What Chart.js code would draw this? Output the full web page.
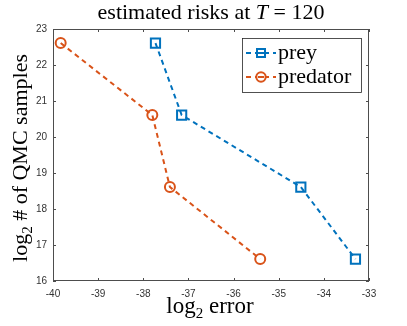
<!DOCTYPE html>
<html>
<head>
<meta charset="utf-8">
<script src="https://cdn.jsdelivr.net/npm/chart.js@4"></script>
<style>
  html, body { margin: 0; padding: 0; background: #fff; }
  #wrap { width: 407px; height: 326px; }
</style>
</head>
<body>
<div id="wrap"><canvas id="grafica" width="407" height="326"></canvas></div>
<script>
// datos
const errPrey = [-37.73, -37.15, -34.51, -33.30];
const nPrey   = [22.61, 20.61, 18.61, 16.61];
const errPred = [-39.83, -37.80, -37.41, -35.41];
const nPred   = [22.61, 20.61, 18.61, 16.61];
const xTicks = [-40, -39, -38, -37, -36, -35, -34, -33];
const yTicks = [16, 17, 18, 19, 20, 21, 22, 23];
const seriesNames = ['prey', 'predator'];

const azul = '#0072BD';
const naranja = '#D95319';
const serif = '"Liberation Serif", "DejaVu Serif", serif';

function toPoints(xs, ys) {
  return xs.map((x, i) => ({ x: x, y: ys[i] }));
}

// dibuja un texto hecho de partes (fuente y desplazamiento vertical), centrado en cx
function textoPartes(ctx, parts, cx, baseY) {
  let total = 0;
  parts.forEach(p => { ctx.font = p.f; p.w = ctx.measureText(p.t).width; total += p.w; });
  let tx = cx - total / 2;
  parts.forEach(p => { ctx.font = p.f; ctx.fillText(p.t, tx, baseY + (p.dy || 0)); tx += p.w; });
}

// marcas hacia adentro, caja, titulos y leyenda estilo matlab
const decoraciones = {
  id: 'decoraciones',
  afterDraw(chart) {
    const ctx = chart.ctx;
    const a = chart.chartArea;
    const sx = chart.scales.x, sy = chart.scales.y;
    ctx.save();
    ctx.strokeStyle = '#4d4d4d';
    ctx.lineWidth = 1;
    ctx.strokeRect(a.left + 0.5, a.top + 0.5, a.right - a.left - 1, a.bottom - a.top - 1);
    ctx.beginPath();
    xTicks.forEach(v => {
      const px = Math.round(sx.getPixelForValue(v)) + 0.5;
      ctx.moveTo(px, a.bottom); ctx.lineTo(px, a.bottom - 3);
      ctx.moveTo(px, a.top); ctx.lineTo(px, a.top + 3);
    });
    yTicks.forEach(v => {
      const py = Math.round(sy.getPixelForValue(v)) + 0.5;
      ctx.moveTo(a.left, py); ctx.lineTo(a.left + 3, py);
      ctx.moveTo(a.right, py); ctx.lineTo(a.right - 3, py);
    });
    ctx.stroke();

    ctx.fillStyle = '#000';
    ctx.textBaseline = 'alphabetic';
    // titulo con T en italica
    textoPartes(ctx, [
      { t: 'estimated risks at ', f: '22px ' + serif },
      { t: 'T', f: 'italic 22px ' + serif },
      { t: ' = 120', f: '22px ' + serif }
    ], 211, 19);

    // titulo eje x
    textoPartes(ctx, [
      { t: 'log', f: '23px ' + serif },
      { t: '2', f: '15px ' + serif, dy: 5 },
      { t: ' error', f: '23px ' + serif }
    ], 210, 313);

    // titulo eje y (rotado)
    ctx.save();
    ctx.translate(27, 158);
    ctx.rotate(-Math.PI / 2);
    textoPartes(ctx, [
      { t: 'log', f: '22px ' + serif },
      { t: '2', f: '15px ' + serif, dy: 5 },
      { t: ' # of QMC samples', f: '22px ' + serif }
    ], 0, 0);
    ctx.restore();

    // leyenda
    const box = { x: 242, y: 38, w: 119, h: 54 };
    ctx.fillStyle = '#fff';
    ctx.fillRect(box.x, box.y, box.w, box.h);
    ctx.strokeStyle = '#262626';
    ctx.lineWidth = 0.8;
    ctx.strokeRect(box.x + 0.5, box.y + 0.5, box.w, box.h);
    const filas = [
      { name: seriesNames[0], color: azul, y: 53, shape: 'rect' },
      { name: seriesNames[1], color: naranja, y: 77, shape: 'circle' }
    ];
    filas.forEach(f => {
      ctx.strokeStyle = f.color;
      ctx.lineWidth = 2;
      ctx.setLineDash([5, 4]);
      ctx.beginPath();
      ctx.moveTo(246, f.y); ctx.lineTo(276, f.y);
      ctx.stroke();
      ctx.setLineDash([]);
      ctx.beginPath();
      if (f.shape === 'rect') {
        ctx.rect(257, f.y - 4, 8, 8);
      } else {
        ctx.arc(261, f.y, 4.7, 0, Math.PI * 2);
      }
      ctx.fillStyle = '#fff';
      ctx.fill();
      ctx.stroke();
      ctx.beginPath();
      ctx.moveTo(258, f.y); ctx.lineTo(264, f.y);
      ctx.stroke();
      ctx.fillStyle = '#000';
      ctx.font = '22px ' + serif;
      ctx.textBaseline = 'middle';
      ctx.fillText(f.name, 278, f.y);
    });
    ctx.restore();
  }
};

var ctx = document.getElementById('grafica').getContext('2d');
var grafica = new Chart(ctx, {
  type: 'scatter',
  data: {
    datasets: [{
      label: seriesNames[0],
      data: toPoints(errPrey, nPrey),
      showLine: true,
      borderColor: azul,
      backgroundColor: 'rgba(0,0,0,0)',
      borderWidth: 2,
      borderDash: [5, 4],
      pointStyle: 'rect',
      pointRadius: 6.5,
      pointBorderWidth: 2,
      pointBorderColor: azul
    }, {
      label: seriesNames[1],
      data: toPoints(errPred, nPred),
      showLine: true,
      borderColor: naranja,
      backgroundColor: 'rgba(0,0,0,0)',
      borderWidth: 2,
      borderDash: [5, 4],
      pointStyle: 'circle',
      pointRadius: 5,
      pointBorderWidth: 2,
      pointBorderColor: naranja
    }]
  },
  options: {
    responsive: false,
    animation: false,
    layout: { padding: { top: 29, right: 38, left: 0, bottom: 0 } },
    plugins: {
      legend: { display: false },
      tooltip: { enabled: false }
    },
    scales: {
      x: {
        type: 'linear',
        min: -40, max: -33,
        afterFit: s => { s.height = 45; },
        afterBuildTicks: s => { s.ticks = xTicks.map(v => ({ value: v })); },
        grid: { display: false, drawTicks: false },
        border: { display: false },
        ticks: { padding: 7, color: '#333', font: { family: '"Liberation Sans", Arial', size: 10 } }
      },
      y: {
        type: 'linear',
        min: 16, max: 23,
        afterFit: s => { s.width = 53; },
        afterBuildTicks: s => { s.ticks = yTicks.map(v => ({ value: v })); },
        grid: { display: false, drawTicks: false },
        border: { display: false },
        ticks: { padding: 6, color: '#333', font: { family: '"Liberation Sans", Arial', size: 10 } }
      }
    }
  },
  plugins: [decoraciones]
});
</script>
</body>
</html>
